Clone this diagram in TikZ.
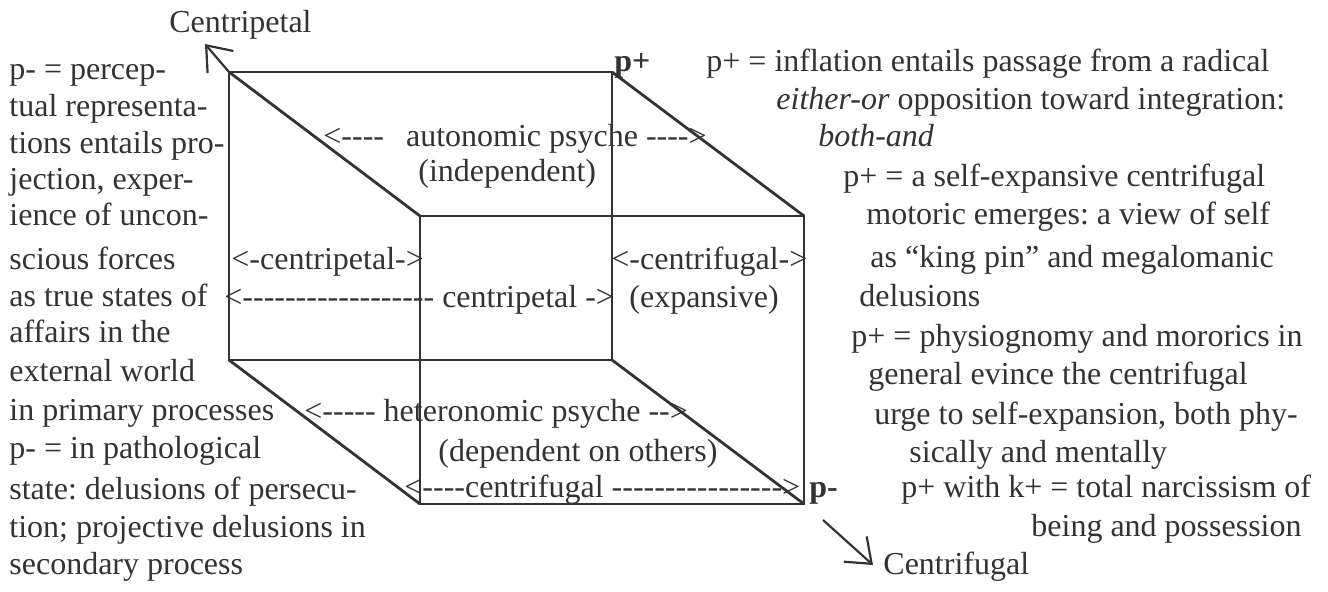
\documentclass[tikz,border=0pt]{standalone}
\usepackage{fontspec}
\setmainfont{Liberation Serif}
\usetikzlibrary{arrows.meta}
\definecolor{ink}{RGB}{51,51,51}
\newcommand\hy{\hbox{-}}
\frenchspacing
\tikzset{
  every path/.style={
    color=ink,
    line width=1.4pt
  },
  every node/.style={
    anchor=base west,
    inner sep=0pt,
    text=ink,
    font=\fontsize{16}{19}\selectfont
  },
  pole/.style={
    line width=1.1pt,
    -{Straight Barb[length=11pt,width=17pt,line width=1.1pt]}
  }
}

\begin{document}
\begin{tikzpicture}[x=0.5pt,y=-0.5pt]
    \useasboundingbox (0,0) rectangle (1328,592);

    %-------------------------
    % cube
    %-------------------------
    \coordinate (a1) at (229,72);
    \coordinate (a2) at (612,72);
    \coordinate (a3) at (612,360);
    \coordinate (a4) at (229,360);
    \coordinate (b1) at (420,216);
    \coordinate (b2) at (804,216);
    \coordinate (b3) at (804,504);
    \coordinate (b4) at (420,504);

    \draw (a1) -- (a2) -- (a3) -- (a4) -- cycle;
    \draw (b1) -- (b2) -- (b3) -- (b4) -- cycle;
    \draw (a1) -- (b1);
    \draw (a2) -- (b2);
    \draw (a3) -- (b3);
    \draw (a4) -- (b4);

    %-------------------------
    % poles
    %-------------------------
    \coordinate (tp) at (205,44);
    \coordinate (cf0) at (823,520);
    \coordinate (cf1) at (873,565);
    \draw[pole] (a1) -- (tp);
    \draw[pole] (cf0) -- (cf1);
    \node (cpt) at (168,33) {Centripetal};
    \node (cfg) at (882,575) {Centrifugal};
    \node[font=\fontsize{16}{19}\selectfont\bfseries] (pp) at (613,72) {p+};
    \node[font=\fontsize{16}{19}\selectfont\bfseries] (pm) at (808,498) {p-};

    %-------------------------
    % inside the cube
    %-------------------------
    \node (auto) at (322,147) {<\hy\hy\hy\hy\hspace{11pt}autonomic psyche \hy\hy\hy\hy>};
    \node (indep) at (417,182) {(independent)};
    \node (cpa) at (230,270) {<\hy centripetal\hy>};
    \node (cfa) at (610,270) {<\hy centrifugal\hy>};
    \node (cpb) at (223,308) {<\hy\hy\hy\hy\hy\hy\hy\hy\hy\hy\hy\hy\hy\hy\hy\hy\hy\hy{} centripetal \hy>};
    \node (expa) at (628,308) {(expansive)};
    \node (hetero) at (303,422) {<\hy\hy\hy\hy\hy{} heteronomic psyche \hy\hy>};
    \node (dep) at (437,462) {(dependent on others)};
    \node (cfb) at (403,498) {<\hy\hy\hy\hy centrifugal \hy\hy\hy\hy\hy\hy\hy\hy\hy\hy\hy\hy\hy\hy\hy\hy>};

    %-------------------------
    % left text (p-)
    %-------------------------
    \node (l1) at (8,80) {p- = percep-};
    \node (l2) at (8,117) {tual representa-};
    \node (l3) at (8,154) {tions entails pro-};
    \node (l4) at (8,190) {jection, exper-};
    \node (l5) at (8,226) {ience of uncon-};
    \node (l6) at (8,270) {scious forces};
    \node (l7) at (8,307) {as true states of};
    \node (l8) at (8,343) {affairs in the};
    \node (l9) at (8,382) {external world};
    \node (l10) at (8,421) {in primary processes};
    \node (l11) at (8,459) {p- = in pathological};
    \node (l12) at (8,500) {state: delusions of persecu-};
    \node (l13) at (8,538) {tion; projective delusions in};
    \node (l14) at (8,575) {secondary process};

    %-------------------------
    % right text (p+)
    %-------------------------
    \node (r1) at (705,72) {p+ = inflation entails passage from a radical};
    \node (r2) at (775,110) {\textit{either-or} opposition toward integration:};
    \node (r3) at (817,147) {\textit{both-and}};
    \node (r4) at (842,187) {p+ = a self-expansive centrifugal};
    \node (r5) at (865,225) {motoric emerges: a view of self};
    \node (r6) at (869,268) {as “king pin” and megalomanic};
    \node (r7) at (858,307) {delusions};
    \node (r8) at (850,347) {p+ = physiognomy and mororics in};
    \node (r9) at (867,385) {general evince the centrifugal};
    \node (r10) at (873,425) {urge to self-expansion, both phy-};
    \node (r11) at (908,463) {sically and mentally};
    \node (r12) at (900,498) {p+ with k+ = total narcissism of};
    \node (r13) at (1030,537) {being and possession};
\end{tikzpicture}
\end{document}
